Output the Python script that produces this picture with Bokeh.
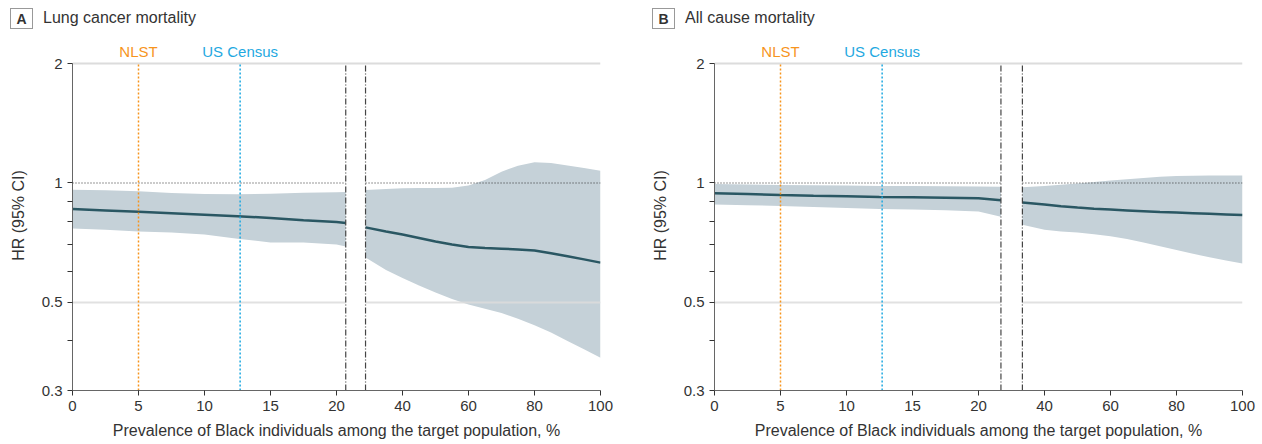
import math
from bokeh.plotting import figure
from bokeh.models import Range1d, FixedTicker, Label, Div
from bokeh.layouts import row, column
from bokeh.embed import file_html
from bokeh.resources import INLINE

# ---------------- data ----------------
y_ticks = [0.3, 0.5, 1, 2]
y_tick_labels = ["0.3", "0.5", "1", "2"]
y_minor_ticks = [0.4, 0.6, 0.7, 0.8, 0.9]
x_ticks_left = [0, 5, 10, 15, 20]
x_ticks_right = [40, 60, 80, 100]
nlst_pct = 5
census_pct = 12.7

# Panel A: lung cancer mortality
a_cuts = [20.7, 28.8]
a_left_x = [0, 2.5, 5, 7.5, 10, 12.5, 15, 17.5, 20, 20.7]
a_left_hr = [0.860, 0.853, 0.846, 0.839, 0.832, 0.825, 0.816, 0.806, 0.797, 0.793]
a_left_lo = [0.768, 0.762, 0.755, 0.750, 0.742, 0.724, 0.708, 0.708, 0.700, 0.692]
a_left_hi = [0.962, 0.958, 0.953, 0.944, 0.938, 0.937, 0.940, 0.945, 0.948, 0.949]
a_right_x = [28.8, 35, 40, 45, 50, 55, 60, 65, 70, 75, 80, 85, 90, 95, 100]
a_right_hr = [0.773, 0.755, 0.742, 0.727, 0.712, 0.700, 0.690, 0.686, 0.683, 0.680, 0.676, 0.665, 0.654, 0.642, 0.630]
a_right_lo = [0.649, 0.604, 0.576, 0.552, 0.530, 0.510, 0.494, 0.482, 0.470, 0.455, 0.438, 0.420, 0.400, 0.381, 0.363]
a_right_hi = [0.960, 0.965, 0.970, 0.971, 0.971, 0.972, 0.985, 1.018, 1.068, 1.105, 1.127, 1.123, 1.106, 1.090, 1.074]

# Panel B: all cause mortality
b_cuts = [21.7, 33.3]
b_left_x = [0, 2.5, 5, 7.5, 10, 12.5, 15, 17.5, 20, 21.7]
b_left_hr = [0.942, 0.938, 0.933, 0.929, 0.926, 0.922, 0.920, 0.918, 0.915, 0.905]
b_left_lo = [0.882, 0.879, 0.875, 0.870, 0.865, 0.860, 0.857, 0.854, 0.848, 0.822]
b_left_hi = [0.994, 0.991, 0.989, 0.987, 0.985, 0.983, 0.982, 0.981, 0.980, 0.979]
b_right_x = [33.3, 40, 45, 50, 55, 60, 65, 70, 75, 80, 85, 90, 95, 100]
b_right_hr = [0.893, 0.882, 0.874, 0.867, 0.861, 0.857, 0.853, 0.849, 0.845, 0.842, 0.839, 0.836, 0.833, 0.830]
b_right_lo = [0.785, 0.762, 0.755, 0.750, 0.743, 0.734, 0.722, 0.708, 0.693, 0.678, 0.663, 0.650, 0.638, 0.627]
b_right_hi = [0.975, 0.983, 0.990, 0.997, 1.005, 1.014, 1.022, 1.030, 1.037, 1.041, 1.043, 1.044, 1.044, 1.044]

# ---------------- style / layout ----------------
FONT = "Liberation Sans"
TXT = "#333333"
BAND = "#C5D1D8"
LINE = "#2A5763"
ORANGE = "#F7941D"
BLUE = "#1FA9E1"
GRID = "#DCDCDC"
FRAME_W = 528
PLOT_H = 327          # height of the 0.3..2 region
HEAD_H = 40           # div with panel title
EXTRA_TOP = 23        # space inside frame above HR=2 for the NLST / Census labels
LABEL_GAP = 12        # px between HR=2 line and the NLST / Census label centre
FIG_H = 444 - HEAD_H
Y_LO, Y_HI = 0.3, 2.0
LOG_PER_PX = math.log10(Y_HI / Y_LO) / PLOT_H
Y_TOP = Y_HI * 10 ** (EXTRA_TOP * LOG_PER_PX)
Y_LABEL = Y_HI * 10 ** (LABEL_GAP * LOG_PER_PX)


def header(letter, title, box_left, text_left, width):
    html = (
        f'<div style="position:relative;width:{width}px;height:{HEAD_H}px;'
        f"font-family:'{FONT}';color:{TXT};\">"
        f'<div style="position:absolute;left:{box_left}px;top:8px;width:23px;height:21px;'
        f'border:1px solid #999;font-weight:bold;font-size:14px;line-height:21px;'
        f'text-align:center;">{letter}</div>'
        f'<div style="position:absolute;left:{text_left}px;top:9px;font-size:16px;'
        f'line-height:18px;white-space:nowrap;">{title}</div></div>'
    )
    return Div(text=html, width=width, height=HEAD_H, margin=0)


def make_panel(lx, lhr, llo, lhi, rx, rhr, rlo, rhi, cuts, bl, br):
    p = figure(width=bl + FRAME_W + br, height=FIG_H,
               x_range=Range1d(0, 40), y_range=Range1d(Y_LO, Y_TOP), y_axis_type="log",
               output_backend="svg", toolbar_location=None,
               min_border_left=bl, min_border_right=br,
               min_border_top=0, min_border_bottom=FIG_H - PLOT_H - EXTRA_TOP)
    p.extra_x_ranges = {"right": Range1d(-60, 100)}
    rr = p.extra_x_ranges["right"]
    p.outline_line_color = None
    p.grid.visible = False

    # bands
    p.varea(x=lx, y1=llo, y2=lhi, fill_color=BAND)
    p.varea(x=rx, y1=rlo, y2=rhi, fill_color=BAND, x_range_name="right")

    # reference lines (interrupted at the break)
    p.line([0, 40], [Y_HI, Y_HI], line_color=GRID, line_width=2)
    p.line([0, cuts[0]], [0.5, 0.5], line_color=GRID, line_width=2, line_alpha=0.85)
    p.line([cuts[1], 100], [0.5, 0.5], line_color=GRID, line_width=2, line_alpha=0.85,
           x_range_name="right")
    p.line([0, cuts[0]], [1, 1], line_color="#333333", line_width=1.1, line_dash="1 2")
    p.line([cuts[1], 100], [1, 1], line_color="#333333", line_width=1.1, line_dash="1 2",
           x_range_name="right")

    # estimate lines
    p.line(lx, lhr, line_color=LINE, line_width=2.5)
    p.line(rx, rhr, line_color=LINE, line_width=2.5, x_range_name="right")

    # NLST / Census markers
    for x, txt, col in [(nlst_pct, "NLST", ORANGE), (census_pct, "US Census", BLUE)]:
        p.segment(x0=[x], y0=[Y_LO], x1=[x], y1=[Y_HI], line_color=col,
                  line_width=1.5, line_dash="2 2")
        p.add_layout(Label(x=x, y=Y_LABEL, x_units="data", y_units="data",
                           text=txt, text_color=col, text_font=FONT, text_font_size="15px",
                           text_align="center", text_baseline="middle"))

    # break lines
    p.segment(x0=[cuts[0]], y0=[Y_LO], x1=[cuts[0]], y1=[Y_HI], line_color="#444444",
              line_width=1.2, line_dash="6 2 1 2")
    p.segment(x0=[cuts[1]], y0=[Y_LO], x1=[cuts[1]], y1=[Y_HI], line_color="#444444",
              line_width=1.2, line_dash="6 2 1 2", x_range_name="right")

    # axes
    xa = p.xaxis[0]
    ticks = list(x_ticks_left)
    overrides = {}
    for v in x_ticks_right:
        t = p.x_range.start + (v - rr.start) * (p.x_range.end - p.x_range.start) / (rr.end - rr.start)
        ticks.append(t)
        overrides[t] = str(v)
    xa.ticker = FixedTicker(ticks=ticks)
    xa.major_label_overrides = overrides
    xa.axis_label = "Prevalence of Black individuals among the target population, %"
    ya = p.yaxis[0]
    ya.ticker = FixedTicker(ticks=y_ticks, minor_ticks=y_minor_ticks)
    ya.major_label_overrides = dict(zip(y_ticks, y_tick_labels))
    ya.bounds = (Y_LO, Y_HI)
    ya.axis_label = "HR (95% CI)"
    for ax in (xa, ya):
        ax.axis_line_color = "#666666"
        ax.major_tick_line_color = "#333333"
        ax.minor_tick_line_color = "#333333"
        ax.major_tick_out = 5
        ax.major_tick_in = 0
        ax.minor_tick_out = 5
        ax.minor_tick_in = 0
        ax.major_label_text_font = FONT
        ax.major_label_text_font_size = "15px"
        ax.major_label_text_color = TXT
        ax.axis_label_text_font = FONT
        ax.axis_label_text_font_size = "16px"
        ax.axis_label_text_font_style = "normal"
        ax.axis_label_text_color = TXT
    xa.major_label_standoff = 5
    xa.axis_label_standoff = 8
    ya.major_label_standoff = 5
    ya.axis_label_standoff = 12
    return p


ha = header("A", "Lung cancer mortality", 10, 43, 640)
hb = header("B", "All cause mortality", 12, 45, 622)
pa = make_panel(a_left_x, a_left_hr, a_left_lo, a_left_hi,
                a_right_x, a_right_hr, a_right_lo, a_right_hi, a_cuts, 72, 40)
pb = make_panel(b_left_x, b_left_hr, b_left_lo, b_left_hi,
                b_right_x, b_right_hr, b_right_lo, b_right_hi, b_cuts, 74, 20)

layout = row(column(ha, pa), column(hb, pb))
open("out.html", "w").write(file_html(layout, INLINE))
